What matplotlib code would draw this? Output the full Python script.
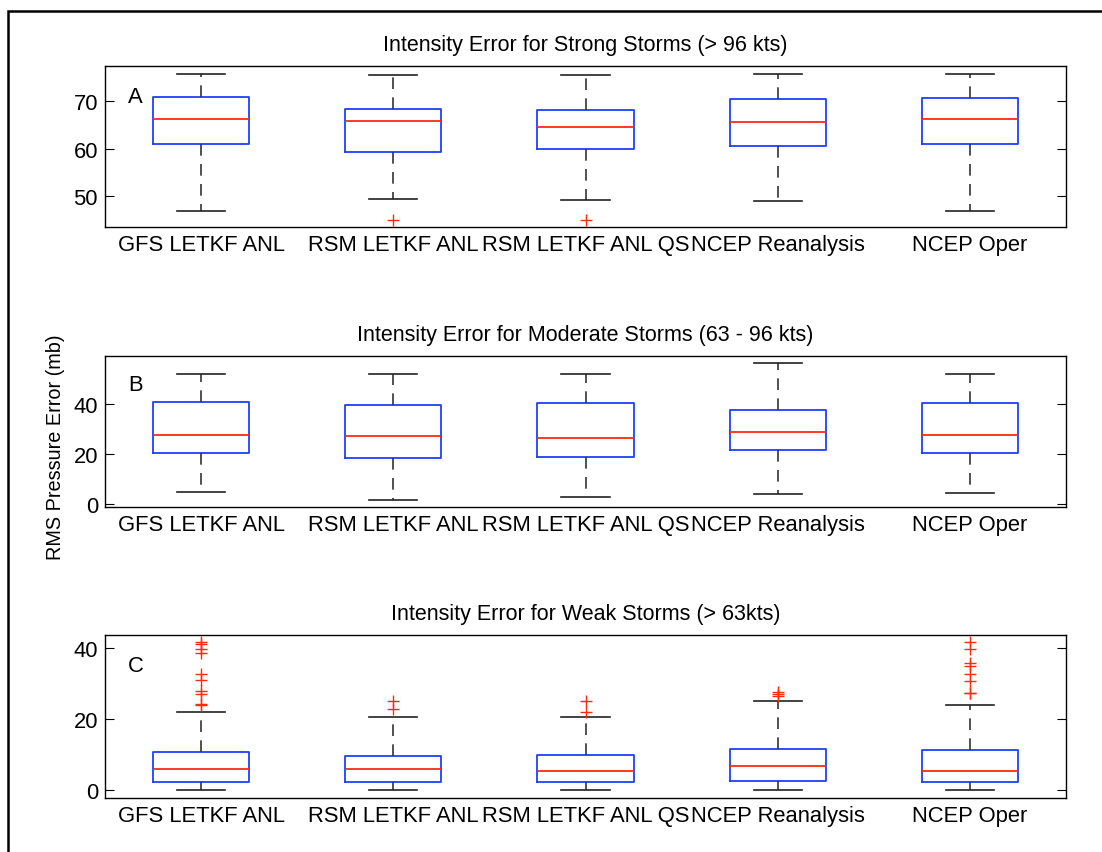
import numpy as np
import matplotlib
matplotlib.use("Agg")
from matplotlib import pyplot as plt
from matplotlib.patches import Rectangle

plt.rcParams["font.family"] = ["Liberation Sans", "DejaVu Sans"]

labels = ["GFS LETKF ANL", "RSM LETKF ANL", "RSM LETKF ANL QS",
          "NCEP Reanalysis", "NCEP Oper"]
titles = ["Intensity Error for Strong Storms (> 96 kts)",
          "Intensity Error for Moderate Storms (63 - 96 kts)",
          "Intensity Error for Weak Storms (> 63kts)"]
panel_tags = ["A", "B", "C"]

# strong storms
strong_whislo = [46.8, 49.4, 49.2, 48.9, 46.8]
strong_q1 = [60.9, 59.2, 59.9, 60.5, 60.9]
strong_med = [66.2, 65.8, 64.5, 65.6, 66.2]
strong_q3 = [70.8, 68.4, 68.2, 70.4, 70.7]
strong_whishi = [75.8, 75.6, 75.6, 75.8, 75.8]
strong_fliers = [[], [45.0], [45.0], [], []]

# moderate storms
moder_whislo = [4.8, 1.9, 3.1, 4.2, 4.7]
moder_q1 = [20.4, 18.4, 18.8, 21.5, 20.4]
moder_med = [27.6, 27.2, 26.4, 28.9, 27.6]
moder_q3 = [40.6, 39.5, 40.4, 37.5, 40.4]
moder_whishi = [51.9, 51.9, 51.9, 56.4, 51.9]
moder_fliers = [[], [], [], [], []]

# weak storms
weak_whislo = [0.0, 0.0, 0.0, 0.0, 0.0]
weak_q1 = [2.35, 2.35, 2.35, 2.6, 2.35]
weak_med = [5.8, 5.8, 5.5, 6.8, 5.5]
weak_q3 = [10.8, 9.7, 9.9, 11.6, 11.35]
weak_whishi = [21.9, 20.7, 20.7, 25.2, 23.9]
weak_fliers = [[24.0, 24.3, 27.2, 27.9, 31.0, 32.7, 38.8, 39.8, 41.2, 41.8],
               [22.8, 25.2],
               [21.9, 25.2],
               [26.4, 27.0, 27.6],
               [27.3, 27.5, 30.9, 32.7, 35.0, 35.8, 39.7, 41.8]]

panels = [
    (strong_whislo, strong_q1, strong_med, strong_q3, strong_whishi, strong_fliers),
    (moder_whislo, moder_q1, moder_med, moder_q3, moder_whishi, moder_fliers),
    (weak_whislo, weak_q1, weak_med, weak_q3, weak_whishi, weak_fliers),
]
yticks = [[50, 60, 70], [0, 20, 40], [0, 20, 40]]
ylims = [(43.5, 77.4), (-1.0, 59.1), (-2.25, 43.75)]

W, H = 1102, 853
fig = plt.figure(figsize=(W / 100, H / 100), dpi=100)
# axes boxes in pixels: (top, bottom)
ax_px = [(67, 228), (357, 508), (636, 799)]
left, right = 105, 1066
fontsize = 15.8

axes = []
for k, (top, bot) in enumerate(ax_px):
    ax = fig.add_axes([left / W, 1 - bot / H, (right - left) / W, (bot - top) / H])
    lo, q1, med, q3, hi, fl = panels[k]
    stats = [dict(whislo=a, q1=b, med=c, q3=d, whishi=e, fliers=f, label=lab)
             for a, b, c, d, e, f, lab in zip(lo, q1, med, q3, hi, fl, labels)]
    ax.bxp(stats, positions=range(1, 6), widths=0.5, capwidths=0.25,
           boxprops=dict(color="#1f3fff", linewidth=1.3),
           medianprops=dict(color="#ff2a10", linewidth=1.3),
           whiskerprops=dict(color="#333333", linestyle=(0, (7, 5)), linewidth=1.2),
           capprops=dict(color="#222222", linewidth=1.2),
           flierprops=dict(marker="+", markeredgecolor="#ff2a10",
                           markersize=8, markeredgewidth=1.0))
    ax.set_xlim(0.5, 5.5)
    ax.set_ylim(*ylims[k])
    ax.set_yticks(yticks[k])
    ax.tick_params(axis="y", direction="in", right=True, length=6.5,
                   labelsize=fontsize, pad=5)
    ax.tick_params(axis="x", length=0, labelsize=fontsize, pad=5)
    ax.set_title(titles[k], fontsize=15.5, pad=11.5)
    ax.text(0.024, 0.81, panel_tags[k], transform=ax.transAxes,
            fontsize=fontsize, va="center", ha="left")
    for sp in ax.spines.values():
        sp.set_linewidth(1.0)
    axes.append(ax)

axes[1].set_ylabel("RMS Pressure Error (mb)", fontsize=14.3)
axes[1].yaxis.set_label_coords(-0.042, 0.40)

# outer frame
fig.patches.append(Rectangle((8 / W, -0.2), 1.5, 1.2 - 12 / H,
                             transform=fig.transFigure, fill=False,
                             edgecolor="black", linewidth=1.8, clip_on=False))

fig.savefig("out.png", dpi=100)
